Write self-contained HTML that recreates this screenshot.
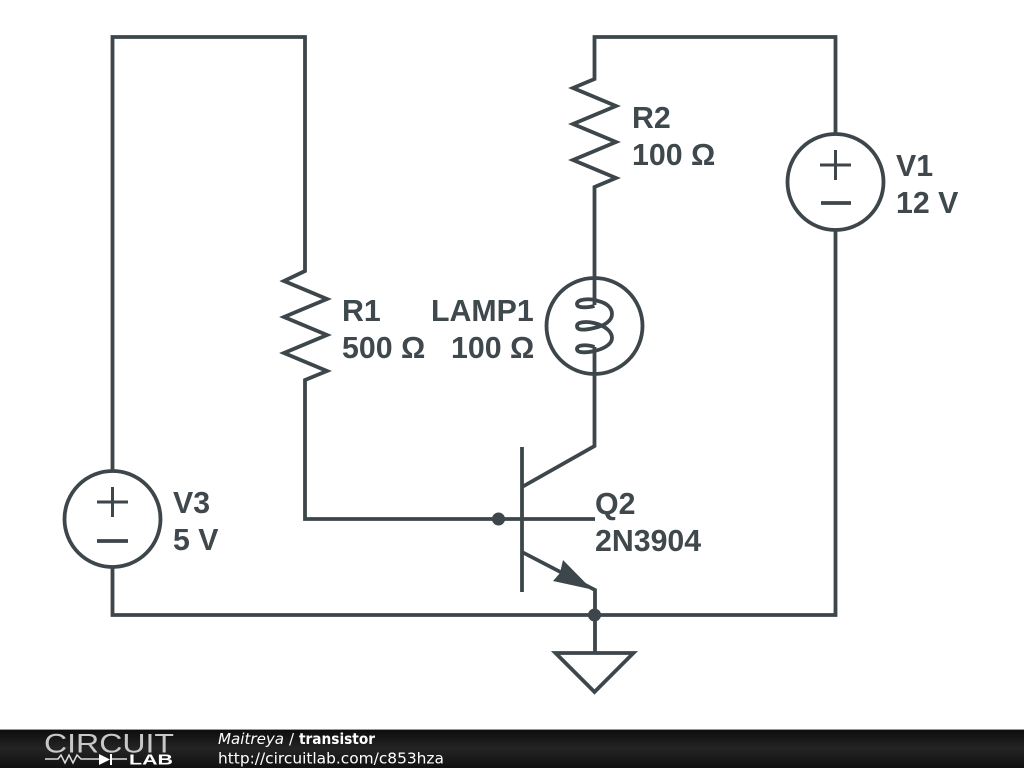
<!DOCTYPE html>
<html><head><meta charset="utf-8"><style>
html,body{margin:0;padding:0;background:#fff;width:1024px;height:768px;overflow:hidden}
svg{display:block}
.l{font:bold 30.300px "Liberation Sans",sans-serif;fill:#3f484d}
</style></head><body>
<svg width="1024" height="768" viewBox="0 0 1024 768" xmlns="http://www.w3.org/2000/svg">
<defs><linearGradient id="g" x1="0" y1="0" x2="0" y2="1"><stop offset="0" stop-color="#0c0c0c"/><stop offset="0.5" stop-color="#242424"/><stop offset="1" stop-color="#111"/></linearGradient></defs>
<g fill="none" stroke="#3d464b" stroke-width="3.800" stroke-linejoin="miter">
<path d="M112.500 470V37H305V271L284 281L327 299L284 317L327 335L284 353L327 371L305 380V519H595"/>
<path d="M594.500 305V187L616 178L573 160L616 142L573 124L616 106L573 88L594.500 79V37H835.500V133"/>
<path d="M835.500 231V615H112.500V568"/>
<circle cx="835.500" cy="182" r="48"/><path d="M821 203H851" />
<circle cx="112.500" cy="519" r="48"/><path d="M97 541H128"/>
<path d="M820 165H851M835.500 150V180M97 502H128M112.500 487V517" stroke-width="3"/>
<circle cx="594.500" cy="326" r="48"/>
<path d="M594.500 347V446L522 487M522 447V592M522 552L595 590V653"/>
<path d="M594.500 306C586 308 577 308 577 304C577 299 590 298 598 301C607 303 612 308 612 314C612 321 604 326 594 328C586 330 577 331 577 326C577 322 586 321 594 323C606 326 612 332 612 338C612 344 604 349 594 351C586 353 577 353 577 349C577 345 586 344 594.500 347"/>
<path d="M555.500 653H633.500L594.500 692Z"/>
</g>
<g fill="#3d464b"><circle cx="498.500" cy="519" r="6.500"/><circle cx="594.500" cy="615" r="6.500"/><path d="M592 589.500L553 581L560 573L563 560Z"/></g>
<text class="l" x="632" y="128">R2</text><text class="l" x="632" y="165">100 Ω</text>
<text class="l" x="896" y="176">V1</text><text class="l" x="896" y="213">12 V</text>
<text class="l" x="342" y="321">R1</text><text class="l" x="342" y="358">500 Ω</text>
<text class="l" x="431" y="321">LAMP1</text><text class="l" x="451" y="358">100 Ω</text>
<text class="l" x="173" y="513">V3</text><text class="l" x="173" y="550">5 V</text>
<text class="l" x="595" y="514">Q2</text><text class="l" x="595" y="551">2N3904</text>
<rect y="729" width="1024" height="39" fill="url(#g)"/><rect y="729" width="1024" height="1" fill="#999"/>
<text x="44" y="752.500" font-family="Liberation Sans,sans-serif" font-size="27" fill="#c8c8c8" textLength="130" lengthAdjust="spacingAndGlyphs">CIRCUIT</text>
<path d="M45 759H58L61 755L65 763L69 755L73 763L77 755L81 759H99M111 759H127" stroke="#ddd" stroke-width="1.500" fill="none"/>
<path d="M99 754V765L110 759.500Z M110 754H112V765H110Z" fill="#fff"/>
<text x="129" y="764.500" font-family="Liberation Sans,sans-serif" font-size="14.500" font-weight="bold" fill="#fff" textLength="44" lengthAdjust="spacingAndGlyphs">LAB</text>
<g font-family="DejaVu Sans,sans-serif" fill="#fff">
<text x="218" y="744" font-size="15.100" font-style="italic">Maitreya</text>
<text x="289" y="744" font-size="15">/</text>
<text x="299" y="744" font-size="15" font-weight="bold" textLength="76" lengthAdjust="spacingAndGlyphs">transistor</text>
<text x="218" y="763.500" font-size="15.400">http://circuitlab.com/c853hza</text>
</g>
</svg>
</body></html>
